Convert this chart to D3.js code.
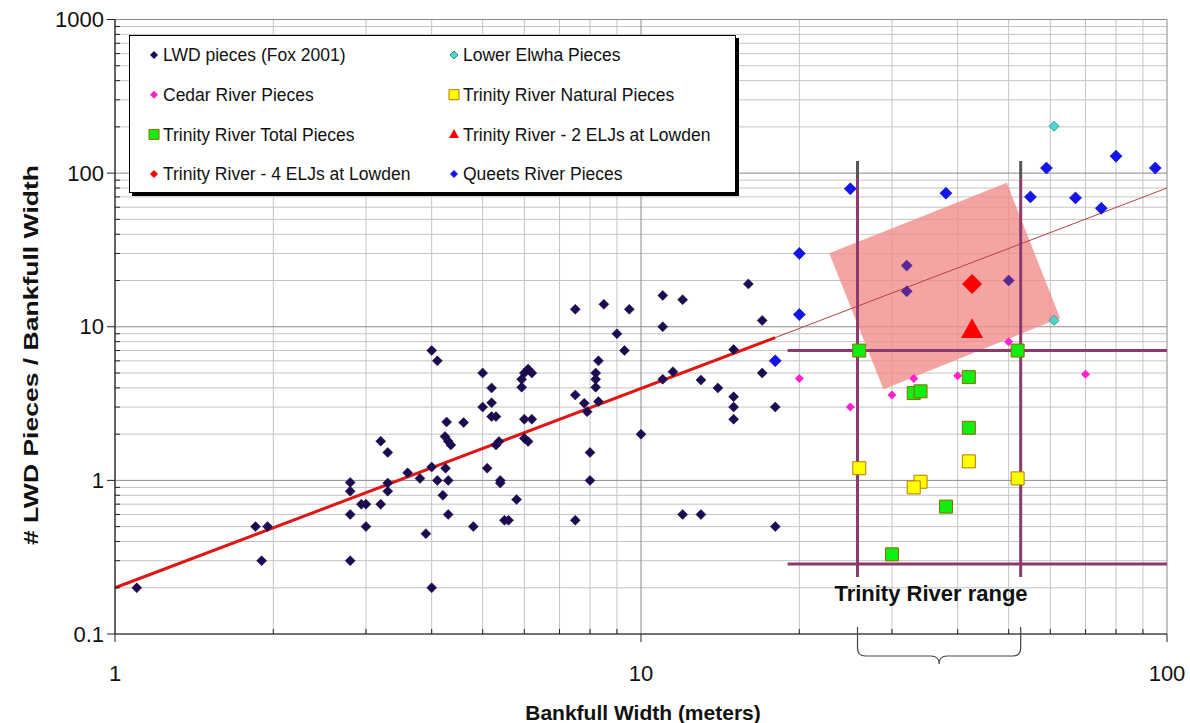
<!DOCTYPE html>
<html>
<head>
<meta charset="utf-8">
<script src="https://cdn.jsdelivr.net/npm/d3@7"></script>
<style>
  body { margin: 0; background: #fff; }
  svg text { font-family: Arial, "Liberation Sans", sans-serif; }
</style>
</head>
<body>
<svg id="chart" width="1190" height="723"></svg>
<script>
// ---- data ----
var lwdPieces = [
  [1.1,0.2],[1.85,0.5],[1.95,0.5],[1.9,0.3],[2.8,0.97],[2.8,0.85],[2.8,0.6],[2.8,0.3],
  [2.94,0.7],[3.0,0.7],[3.0,0.5],[3.2,1.8],[3.3,1.52],[3.2,0.7],[3.3,0.96],[3.3,0.85],
  [3.6,1.12],[3.8,1.03],[4.0,1.22],[3.9,0.45],[4.0,0.2],[4.1,1.0],[4.2,0.8],[4.25,1.2],
  [4.3,1.0],[4.3,0.6],[4.0,7.0],[4.1,6.0],[4.27,2.4],[4.24,1.93],[4.3,1.8],[4.35,1.7],
  [4.6,2.38],[4.8,0.5],[5.0,5.0],[5.2,4.0],[5.2,3.2],[5.0,3.0],[5.2,2.6],[5.3,2.6],
  [5.37,1.79],[5.3,1.7],[5.1,1.2],[5.4,1.0],[5.4,0.96],[5.8,0.75],[5.5,0.55],[5.6,0.55],
  [6.0,2.5],[6.2,2.5],[6.0,1.88],[6.1,1.79],[6.0,5.0],[6.1,5.3],[6.2,5.0],[5.93,4.55],
  [5.93,4.04],[7.5,13],[8.5,14],[9.5,13],[9.0,9.0],[9.3,7.0],[8.3,6.0],[8.2,5.0],
  [8.2,4.55],[8.2,4.04],[8.3,3.26],[7.5,3.6],[7.8,3.18],[7.9,2.8],[8.0,1.52],[8.0,1.0],
  [7.5,0.55],[10,2.0],[11,16],[12,15],[11,10],[16,19],[17,11],[15,7.1],[17,5.0],
  [11.5,5.1],[11,4.55],[13,4.5],[14,4.0],[15,3.5],[15,3.0],[15,2.5],[18,3.0],
  [12,0.6],[13,0.6],[18,0.5]
];
// LWD points that sit under the pink box (drawn tinted)
var lwdInBox = [[32,25],[32,17],[50,20]];
var cedarPieces = [[20,4.6],[25,3.0],[30,3.6],[33,4.6],[40,4.8],[50,8.0],[70,4.9]];
var elwhaPieces = [[61,202],[61,11]];
var queetsPieces = [
  [18,6],[20,12],[20,30],[25,79],[38,74],[55,70],[59,108],[67,69],[75,59],[80,129],[95,108]
];
var trinityTotal = [[26,7],[52,7],[42,4.7],[33,3.7],[34,3.8],[42,2.2],[38,0.675],[30,0.33]];
var trinityNatural = [[26,1.2],[34,0.98],[33,0.9],[42,1.33],[52,1.03]];
var elj4 = [[42.6,19]];
var elj2 = [[42.6,9.5]];

// power-law fit line (solid part, then thin extension)
var fitSolid = [[1,0.2],[18,8.5]];
var fitThin = [[18,8.5],[100,80]];

// Trinity range annotation
var rangeX = [25.8, 52.7];
var rangeY = [0.285, 7];
var rangeLineX = [19, 100];
var pinkBox = [[22.8,30.1],[49.6,86.6],[62.6,11.4],[28.9,3.92]];

var xTicks = [1, 10, 100];
var yTicks = [0.1, 1, 10, 100, 1000];

// ---- chart ----
var svg = d3.select("#chart");
var x = d3.scaleLog().domain([1, 100]).range([115, 1167]);
var y = d3.scaleLog().domain([0.1, 1000]).range([634, 19.5]);

function minors(lo, hi) {
  var out = [];
  for (var p = lo; p < hi; p *= 10)
    for (var k = 2; k <= 9; k++) out.push(p * k);
  return out;
}

var grid = svg.append("g");
grid.selectAll(".gx").data(minors(1, 100)).enter().append("line")
    .attr("x1", function(d) { return x(d); }).attr("x2", function(d) { return x(d); })
    .attr("y1", y(1000)).attr("y2", y(0.1))
    .attr("stroke", "#c4c4c4").attr("stroke-width", 1);
grid.selectAll(".gy").data(minors(0.1, 1000)).enter().append("line")
    .attr("y1", function(d) { return y(d); }).attr("y2", function(d) { return y(d); })
    .attr("x1", x(1)).attr("x2", x(100))
    .attr("stroke", "#c4c4c4").attr("stroke-width", 1);
grid.selectAll(".gX").data(xTicks).enter().append("line")
    .attr("x1", function(d) { return x(d); }).attr("x2", function(d) { return x(d); })
    .attr("y1", y(1000)).attr("y2", y(0.1))
    .attr("stroke", "#8a8a8a");
grid.selectAll(".gY").data(yTicks).enter().append("line")
    .attr("y1", function(d) { return y(d); }).attr("y2", function(d) { return y(d); })
    .attr("x1", x(1)).attr("x2", x(100))
    .attr("stroke", "#8a8a8a");

// pink box
var line = d3.line().x(function(d) { return x(d[0]); }).y(function(d) { return y(d[1]); });
svg.append("path")
    .attr("d", line(pinkBox) + "Z")
    .attr("fill", "#f28a8a").attr("fill-opacity", 0.78);

// fit lines
svg.append("path").attr("d", line(fitThin))
    .attr("fill", "none").attr("stroke", "#b84040").attr("stroke-width", 1);
svg.append("path").attr("d", line(fitSolid))
    .attr("fill", "none").attr("stroke", "#e01515").attr("stroke-width", 3);

// range lines
var rangeColor = "#8c3a6c";
rangeY.forEach(function(v) {
  svg.append("line")
      .attr("x1", x(rangeLineX[0])).attr("x2", x(rangeLineX[1]))
      .attr("y1", y(v)).attr("y2", y(v))
      .attr("stroke", rangeColor).attr("stroke-width", 3);
});
rangeX.forEach(function(v) {
  svg.append("line")
      .attr("x1", x(v)).attr("x2", x(v))
      .attr("y1", 178).attr("y2", 577)
      .attr("stroke", rangeColor).attr("stroke-width", 3);
  svg.append("line")
      .attr("x1", x(v)).attr("x2", x(v))
      .attr("y1", 161).attr("y2", 178)
      .attr("stroke", "#555").attr("stroke-width", 3);
});

// markers
function diamond(r) { return "M0," + (-r) + "L" + r + ",0L0," + r + "L" + (-r) + ",0Z"; }
function square(s) { var h = s / 2; return "M" + (-h) + "," + (-h) + "h" + s + "v" + s + "h" + (-s) + "Z"; }
function triangle(w) { var h = w * 0.9; return "M0," + (-h * 0.6) + "L" + (w / 2) + "," + (h * 0.4) + "L" + (-w / 2) + "," + (h * 0.4) + "Z"; }

function plotSeries(data, path, fill, stroke, sw) {
  svg.append("g").selectAll("path").data(data).enter().append("path")
      .attr("transform", function(d) { return "translate(" + x(d[0]) + "," + y(d[1]) + ")"; })
      .attr("d", path)
      .attr("fill", fill)
      .attr("stroke", stroke || "none")
      .attr("stroke-width", sw || 0);
}

plotSeries(lwdPieces, diamond(5), "#1e0a52", "#120632", 0.5);
plotSeries(lwdInBox, diamond(5.5), "#58289a", "#3a1a70", 0.5);
plotSeries(cedarPieces, diamond(4.5), "#ff22cc");
plotSeries(elwhaPieces, diamond(5), "#4cd6d0", "#2a8a88", 0.8);
plotSeries(queetsPieces, diamond(6), "#1414ee", "#0000a0", 0.6);
plotSeries(trinityNatural, square(13), "#ffff00", "#b87800", 1);
plotSeries(trinityTotal, square(13), "#11ee11", "#8a6a00", 1);
plotSeries(elj4, diamond(10), "#ff0000");
plotSeries(elj2, triangle(22), "#ff0000");

// axes
svg.append("line").attr("x1", x(1)).attr("x2", x(1)).attr("y1", y(1000)).attr("y2", y(0.1))
    .attr("stroke", "#222").attr("stroke-width", 1.2);
svg.append("line").attr("x1", x(1)).attr("x2", x(100)).attr("y1", y(0.1)).attr("y2", y(0.1))
    .attr("stroke", "#222").attr("stroke-width", 1.2);
svg.selectAll(".ty").data(yTicks).enter().append("line")
    .attr("x1", x(1) - 8).attr("x2", x(1)).attr("y1", function(d) { return y(d); }).attr("y2", function(d) { return y(d); })
    .attr("stroke", "#222");
svg.selectAll(".tym").data(minors(0.1, 1000)).enter().append("line")
    .attr("x1", x(1)).attr("x2", x(1) + 5).attr("y1", function(d) { return y(d); }).attr("y2", function(d) { return y(d); })
    .attr("stroke", "#222");
svg.selectAll(".tx").data(xTicks).enter().append("line")
    .attr("x1", function(d) { return x(d); }).attr("x2", function(d) { return x(d); })
    .attr("y1", y(0.1)).attr("y2", y(0.1) + 8)
    .attr("stroke", "#222");
svg.selectAll(".txm").data(minors(1, 100)).enter().append("line")
    .attr("x1", function(d) { return x(d); }).attr("x2", function(d) { return x(d); })
    .attr("y1", y(0.1) - 5).attr("y2", y(0.1))
    .attr("stroke", "#222");

svg.selectAll(".ly").data(yTicks).enter().append("text")
    .attr("x", 104).attr("y", function(d) { return y(d); }).attr("dy", "0.35em")
    .attr("text-anchor", "end").attr("font-size", 22).attr("fill", "#111")
    .text(function(d) { return d3.format("")(d); });
svg.selectAll(".lx").data(xTicks).enter().append("text")
    .attr("x", function(d) { return x(d); }).attr("y", 681)
    .attr("text-anchor", "middle").attr("font-size", 22).attr("fill", "#111")
    .text(function(d) { return d; });

svg.append("text").attr("x", 643).attr("y", 720)
    .attr("text-anchor", "middle").attr("font-size", 21).attr("font-weight", "bold")
    .attr("fill", "#111")
    .text("Bankfull Width (meters)");
svg.append("text").attr("transform", "translate(38,355) rotate(-90)")
    .attr("text-anchor", "middle").attr("font-size", 21).attr("font-weight", "bold")
    .attr("fill", "#111")
    .attr("textLength", 380).attr("lengthAdjust", "spacingAndGlyphs")
    .text("# LWD Pieces / Bankfull Width");

// Trinity River range label and brace
svg.append("text").attr("x", 931).attr("y", 601)
    .attr("text-anchor", "middle").attr("font-size", 22).attr("font-weight", "bold")
    .attr("fill", "#111")
    .text("Trinity River range");
var bx0 = x(rangeX[0]), bx1 = x(rangeX[1]), bm = (bx0 + bx1) / 2;
svg.append("path")
    .attr("d", "M" + bx0 + ",627V648Q" + bx0 + ",656 " + (bx0 + 8) + ",656H" + (bm - 8) +
          "Q" + bm + ",656 " + bm + ",664Q" + bm + ",656 " + (bm + 8) + ",656H" + (bx1 - 8) +
          "Q" + bx1 + ",656 " + bx1 + ",648V627")
    .attr("fill", "none").attr("stroke", "#444").attr("stroke-width", 1.2);

// legend
var legendRows = [
  ["LWD pieces (Fox 2001)", diamond(4), "#1e0a52", null],
  ["Cedar River Pieces", diamond(4), "#ff22cc", null],
  ["Trinity River Total Pieces", square(10), "#11ee11", "#8a6a00"],
  ["Trinity River - 4 ELJs at Lowden", diamond(4), "#ff0000", null],
  ["Lower Elwha Pieces", diamond(4), "#4cd6d0", "#2a8a88"],
  ["Trinity River Natural Pieces", square(10), "#ffff00", "#b87800"],
  ["Trinity River - 2 ELJs at Lowden", triangle(10), "#ff0000", null],
  ["Queets River Pieces", diamond(4), "#1414ee", null]
];
var lg = svg.append("g");
lg.append("rect").attr("x", 132).attr("y", 38).attr("width", 607).attr("height", 158).attr("fill", "#000");
lg.append("rect").attr("x", 129.5).attr("y", 35.5).attr("width", 606).attr("height", 157)
    .attr("fill", "#fff").attr("stroke", "#000").attr("stroke-width", 1);
legendRows.forEach(function(r, i) {
  var col = Math.floor(i / 4), row = i % 4;
  var mx = col === 0 ? 154 : 454, my = 55 + row * 39.7;
  lg.append("path").attr("transform", "translate(" + mx + "," + my + ")").attr("d", r[1])
      .attr("fill", r[2]).attr("stroke", r[3] || "none").attr("stroke-width", 1);
  lg.append("text").attr("x", mx + 9).attr("y", my).attr("dy", "0.36em")
      .attr("font-size", 17.5).attr("fill", "#111").text(r[0]);
});
</script>
</body>
</html>
